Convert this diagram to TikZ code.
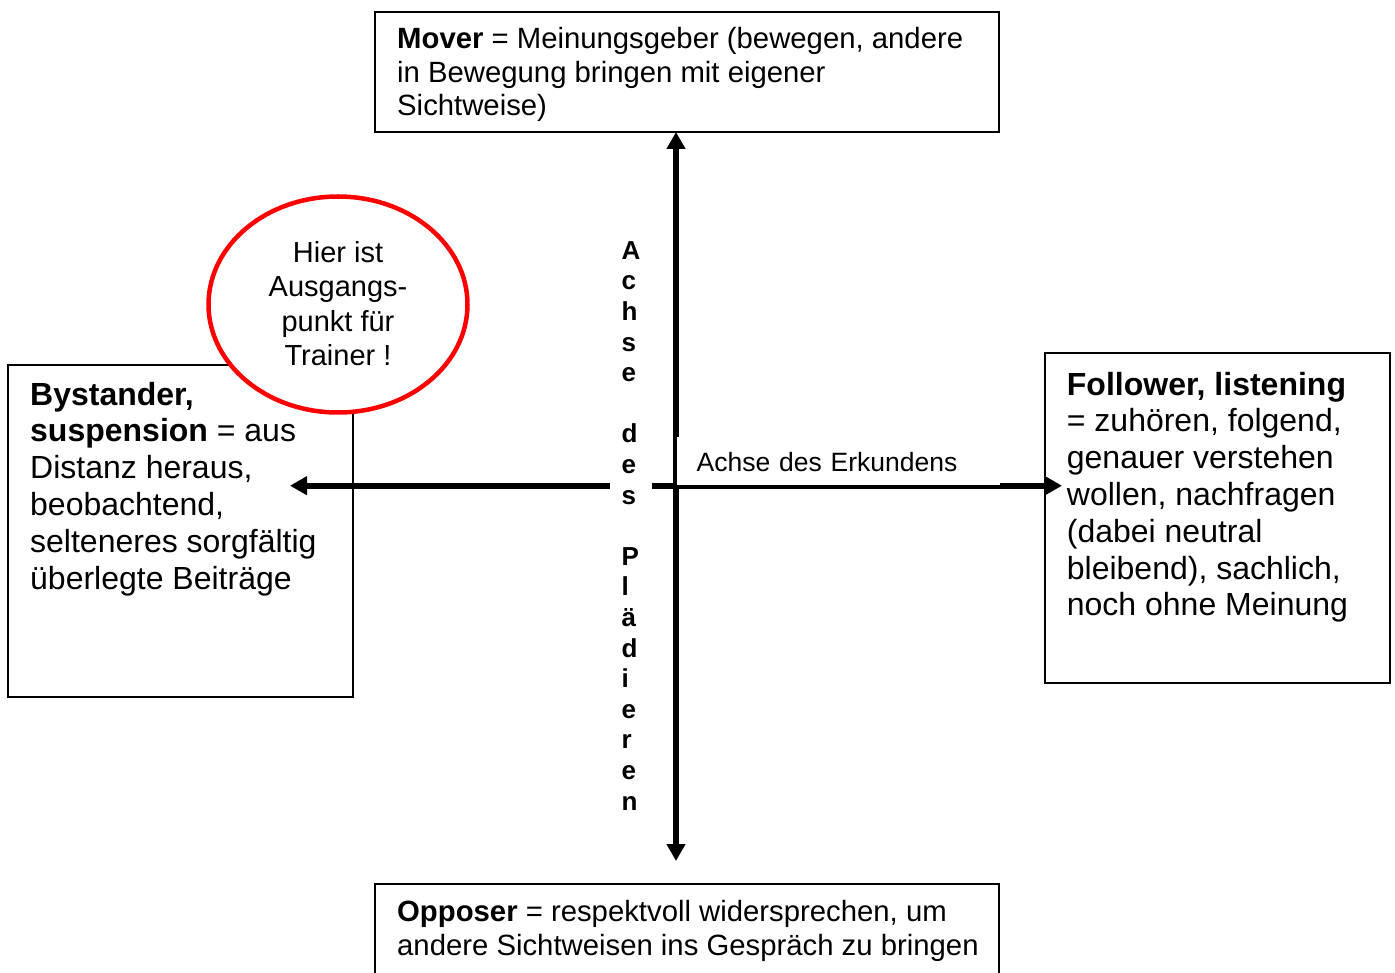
\documentclass[tikz,border=0pt]{standalone}
\usepackage{fontspec}
\setmainfont{Liberation Sans}
\usetikzlibrary{arrows.meta,shapes.geometric}
\begin{document}
\begin{tikzpicture}[x=1pt,y=-1pt,
  frame/.style={draw, line width=2pt, inner sep=0pt, outer sep=0pt, anchor=north west},
  % multi-line texts are placed by the baseline of their last line
  boxtext/.style={anchor=base west, inner sep=0pt, align=left},
  midtxt/.style={font=\fontsize{29.3pt}{33.4pt}\selectfont},
  bigtxt/.style={font=\fontsize{32pt}{36.8pt}\selectfont},
  axis/.style={line width=6pt,
    {Triangle[length=17pt,width=18pt]}-{Triangle[length=17pt,width=18pt]}},
  axislabel/.style={fill=white, outer sep=0pt},
  spot/.style={ellipse, draw=red, fill=white, line width=4.5pt,
    minimum width=259pt, minimum height=216pt, inner sep=0pt}
]
\useasboundingbox (0,0) rectangle (1395,973);
\clip (0,0) rectangle (1395,973);

% frames of the four positions
\node[frame, minimum width=624pt, minimum height=120pt] (mover) at (375,12) {};
\node[frame, minimum width=624pt, minimum height=110pt] (opposer) at (375,884) {};
\node[frame, minimum width=345pt, minimum height=331.5pt] (bystander) at (8.3,365) {};
\node[frame, minimum width=345pt, minimum height=330pt] (follower) at (1045,353.3) {};

% the two axes
\coordinate (c) at (676,485.7);
\coordinate (westend) at (290,485.7);
\coordinate (eastend) at (1062,485.7);
\coordinate (southend) at (676,861);
\draw[axis] (c |- mover.south) -- (southend);
\draw[axis] (westend) -- (eastend);

% axis labels on white ground
\node[axislabel, anchor=base west, inner xsep=11.7pt, inner ysep=6pt, align=left,
      font=\fontsize{26pt}{30.6pt}\selectfont\bfseries] (plaed) at (610,810.1)
  {A\\c\\h\\s\\e\\\mbox{}\\d\\e\\s\\\mbox{}\\P\\l\\ä\\d\\i\\e\\r\\e\\n};
\node[axislabel, anchor=north west, minimum width=323pt, minimum height=48.6pt,
      inner xsep=19.7pt, inner ysep=0pt, text width=283.6pt, align=left,
      text height=20pt, text depth=0pt,
      font=\fontsize{26.5pt}{30pt}\selectfont] (erkunden) at (677,436.7)
  {Achse des Erkundens};

% starting point marker
\node[spot] (start) at (338,304.5) {};
\node[font=\fontsize{29pt}{34.3pt}\selectfont, anchor=base, align=center, inner sep=0pt]
  (starttext) at (338,365.6)
  {Hier ist\\Ausgangs-\\punkt für\\Trainer !};

% texts of the four positions
\node[boxtext, midtxt] (movertext) at (397,115.8)
  {\textbf{Mover} = Meinungsgeber (bewegen, andere\\in Bewegung bringen mit eigener\\Sichtweise)};
\node[boxtext, midtxt] (opposertext) at (397,955.1)
  {\textbf{Opposer} = respektvoll widersprechen, um\\andere Sichtweisen ins Gespräch zu bringen};
\node[boxtext, bigtxt] (bystandertext) at (30,589)
  {\textbf{Bystander,}\\\textbf{suspension} = aus\\Distanz heraus,\\beobachtend,\\selteneres sorgfältig\\überlegte Beiträge};
\node[boxtext, bigtxt] (followertext) at (1066.7,615.8)
  {\textbf{Follower, listening}\\= zuhören, folgend,\\genauer verstehen\\wollen, nachfragen\\(dabei neutral\\bleibend), sachlich,\\noch ohne Meinung};
\end{tikzpicture}
\end{document}
